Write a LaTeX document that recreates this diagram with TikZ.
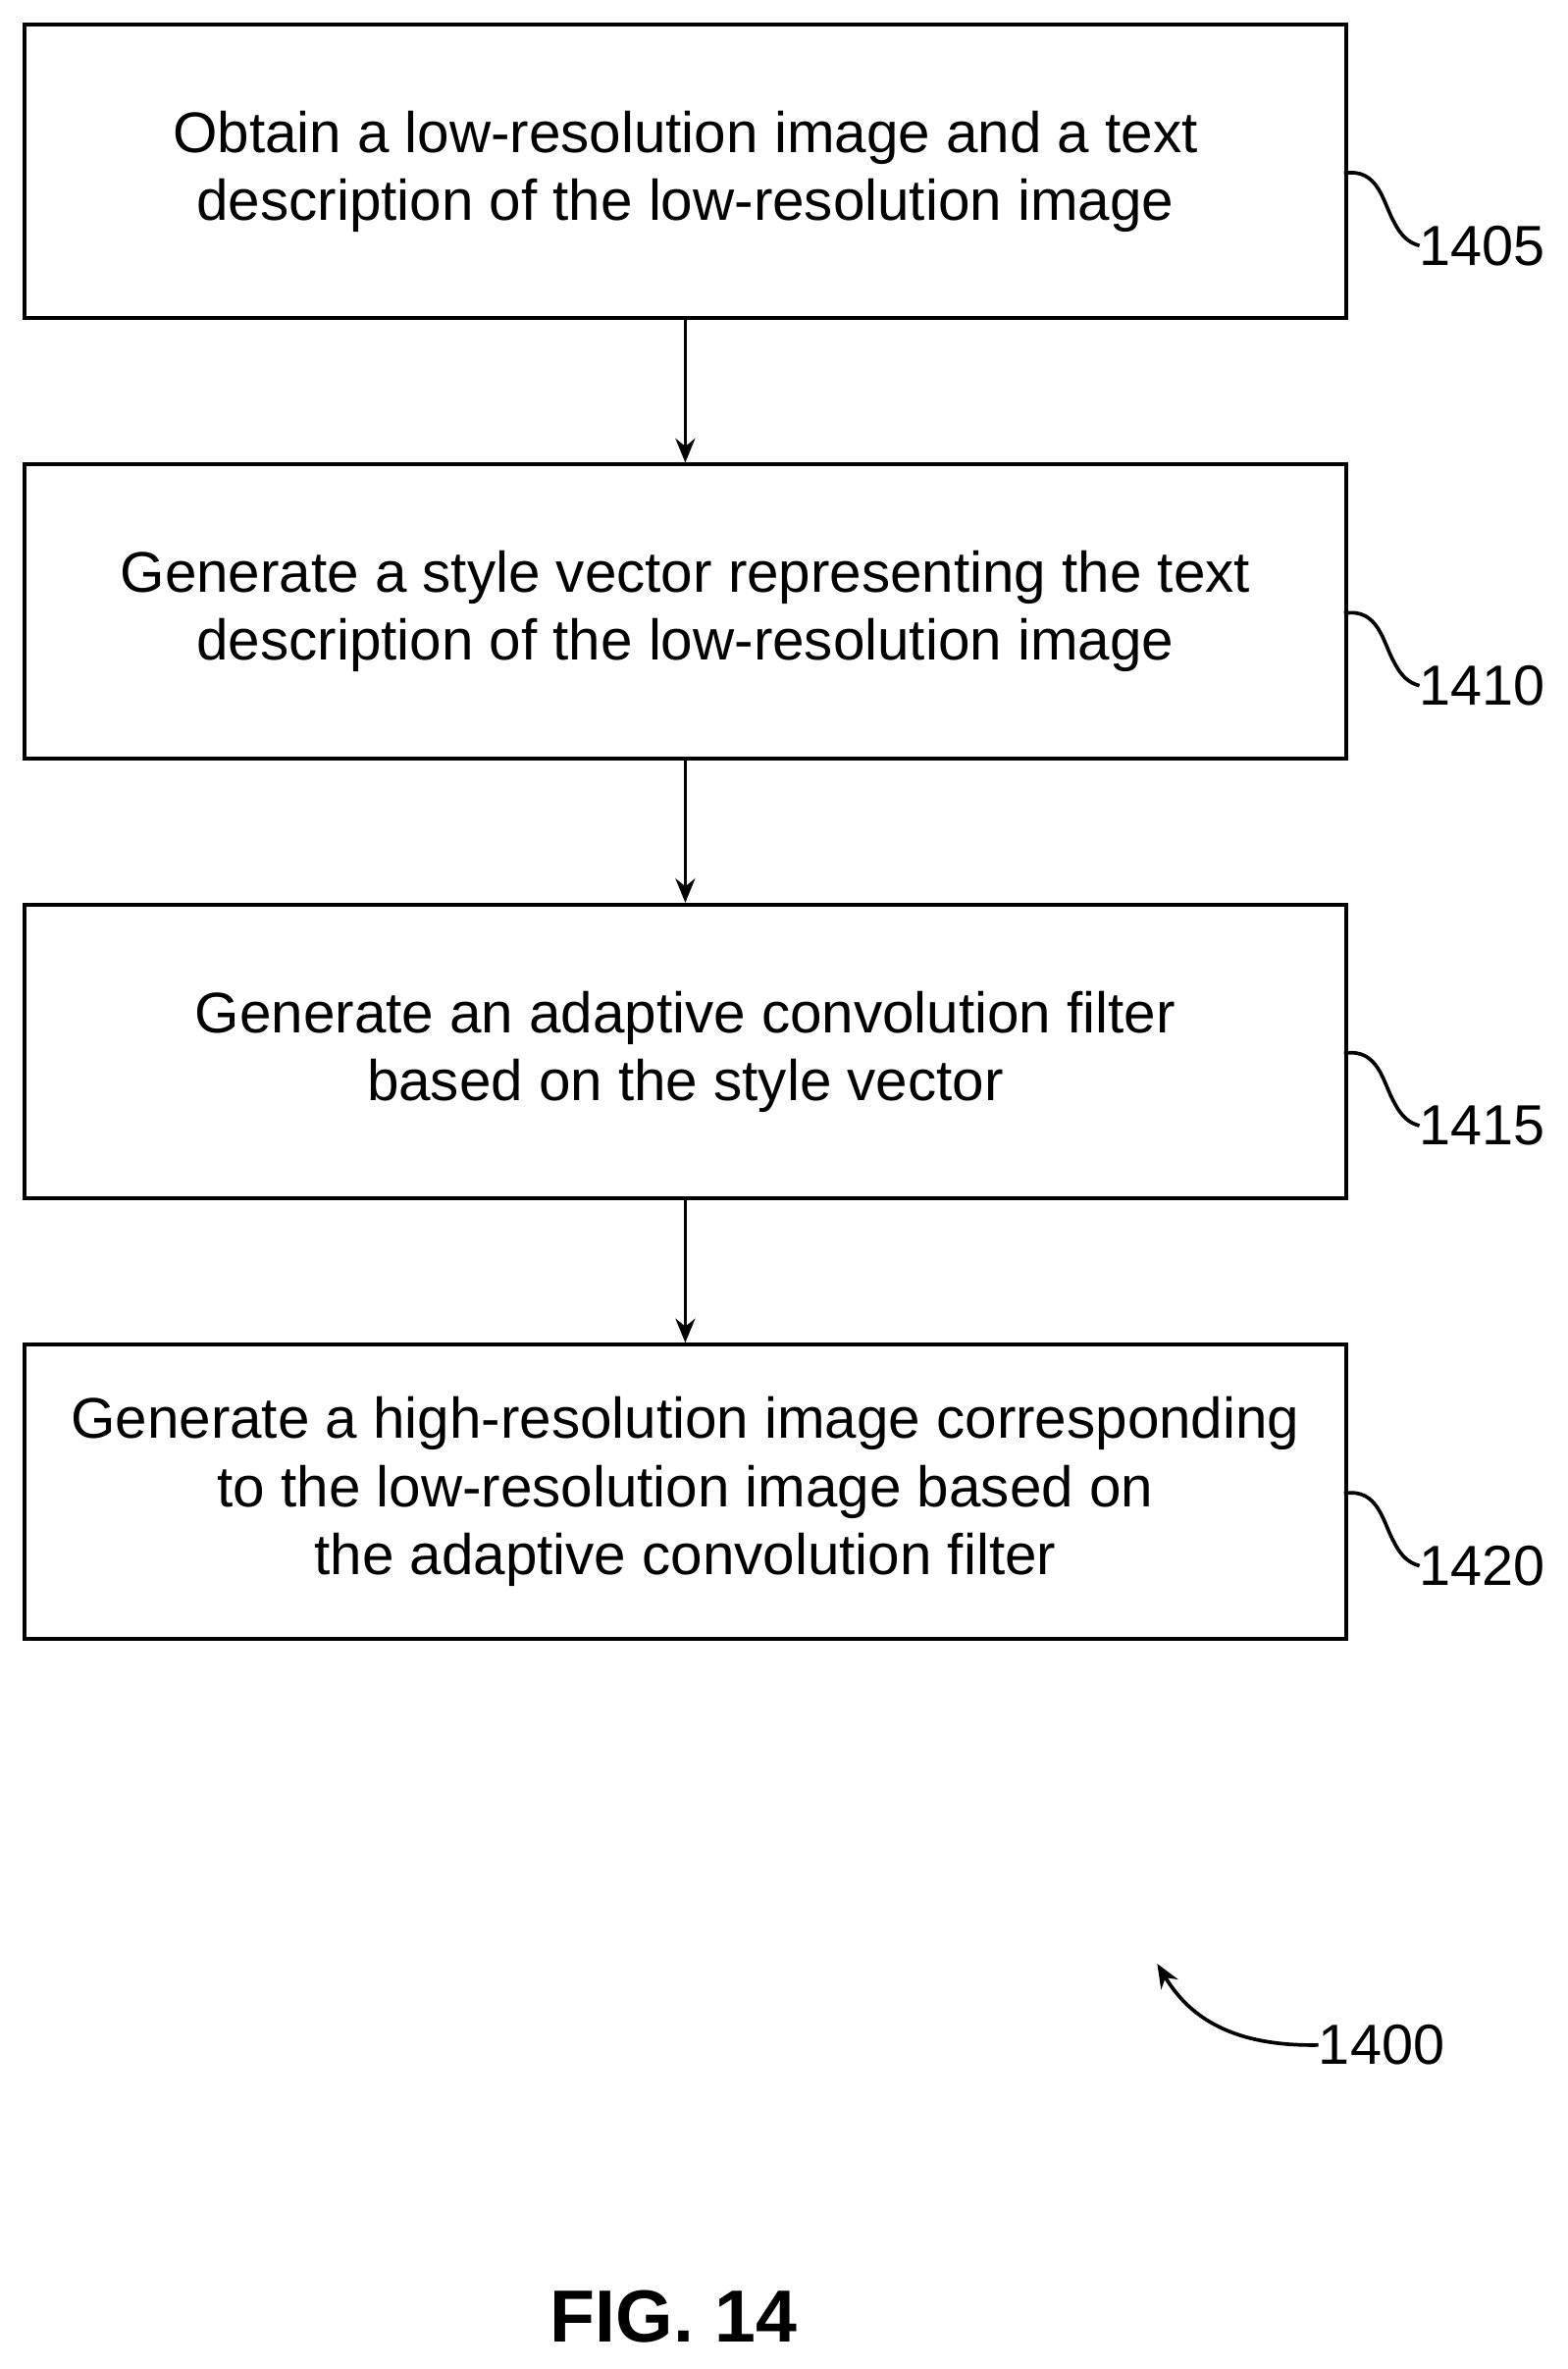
\documentclass[tikz,border=0pt]{standalone}
\usepackage{fontspec}
\setmainfont{Liberation Sans}
\usetikzlibrary{arrows.meta}
\begin{document}
\begin{tikzpicture}[x=1pt,y=-1pt,
  box/.style={draw,line width=2.6pt,minimum width=877pt,minimum height=195pt,anchor=north west,inner sep=0pt,align=center,font=\fontsize{38}{45}\selectfont},
  arr/.style={line width=2.4pt,-{Stealth[length=16pt,width=13pt]}},
  lbl/.style={anchor=west,inner sep=0pt,font=\fontsize{37.5}{42}\selectfont},
  sq/.style={line width=2.4pt}]
\useasboundingbox (0,0) rectangle (1040,1572);
\node[box] (b1) at (15,15) {Obtain a low-resolution image and a text\\description of the low-resolution image};
\node[box] (b2) at (15,307) {Generate a style vector representing the text\\description of the low-resolution image};
\node[box] (b3) at (15,599) {Generate an adaptive convolution filter\\based on the style vector};
\node[box] (b4) at (15,891) {Generate a high-resolution image corresponding\\to the low-resolution image based on\\the adaptive convolution filter};
\draw[arr] (b1.south) -- (b2.north);
\draw[arr] (b2.south) -- (b3.north);
\draw[arr] (b3.south) -- (b4.north);
\foreach \b/\t/\y in {b1/1405/115,b2/1410/407,b3/1415/699,b4/1420/991}{
  \node[lbl] (l\t) at (942,\y+48) {\t};
  \draw[sq] (892,\y) .. controls (915,\y-4) and (918,\y+20) .. (925,\y+32) .. controls (930,\y+42) and (935,\y+46) .. (l\t.west);
}
\node[lbl] (l1400) at (875,1357) {1400};
\coordinate (t1400) at (768,1303);
\draw[line width=2.4pt,-{Stealth[length=16pt,width=13pt]}] (l1400.west) .. controls (820,1358) and (790,1340) .. (t1400);
\node[font=\bfseries\fontsize{49}{52}\selectfont] (fig) at (447,1537) {FIG. 14};
\end{tikzpicture}
\end{document}
